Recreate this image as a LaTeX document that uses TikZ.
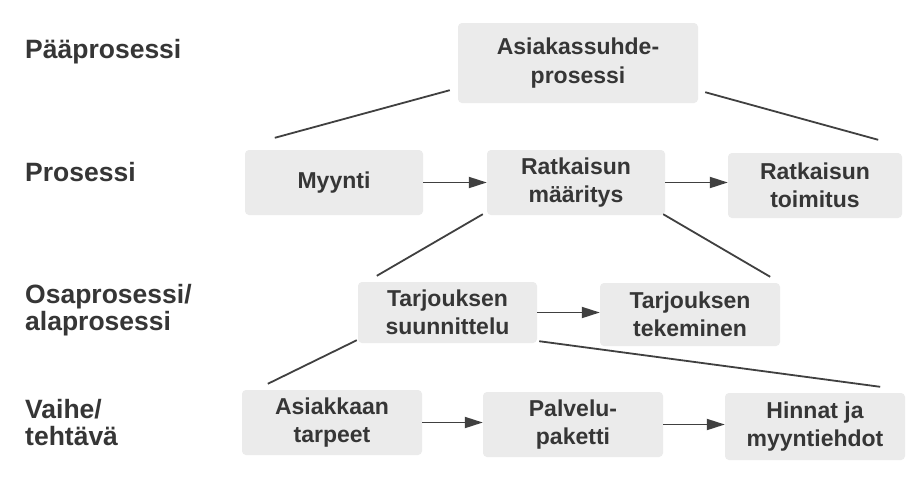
\documentclass[tikz,border=0pt]{standalone}
\usepackage{fontspec}
\setmainfont{Liberation Sans}
\usetikzlibrary{arrows.meta,calc}
\definecolor{boxgray}{HTML}{EBEBEB}
\definecolor{txtgray}{HTML}{363636}
\definecolor{linegray}{HTML}{404040}
\tikzset{
  procbox/.style={fill=boxgray, rounded corners=4pt, inner sep=0pt, align=center,
    text=txtgray, font=\fontsize{23}{28.5}\selectfont\bfseries},
  levellabel/.style={anchor=west, inner sep=0pt, align=left, text=txtgray,
    font=\fontsize{26.5}{27}\selectfont\bfseries},
  flow/.style={draw=linegray, line width=1.9pt, -{Triangle[length=18pt,width=11pt]}},
  link/.style={draw=linegray, line width=1.8pt}
}
\newcommand{\procnode}[6]{% name, x1, x2, y1, y2, text
  \node[procbox, minimum width={#3-#2}, minimum height={#5-#4}] (#1) at ({(#2+#3)/2},{(#4+#5)/2}) {#6};}
\begin{document}
\begin{tikzpicture}[x=1pt,y=-1pt]
\useasboundingbox[fill=white] (0,0) rectangle (906,480);

% level labels
\node[levellabel] (l1) at (25,52) {Pääprosessi};
\node[levellabel] (l2) at (25,172) {Prosessi};
\node[levellabel] (l3) at (25,310) {Osaprosessi/\\alaprosessi};
\node[levellabel] (l4) at (25,423) {Vaihe/\\tehtävä};

% boxes
\procnode{top}{458}{698}{23}{103}{Asiakassuhde-\\prosessi}
\procnode{myynti}{245}{423}{150}{215}{Myynti}
\procnode{rmaar}{487}{665}{150}{215}{Ratkaisun\\määritys}
\procnode{rtoim}{728}{902}{153}{218}{Ratkaisun\\toimitus}
\procnode{tsuun}{358}{537}{282}{343}{Tarjouksen\\suunnittelu}
\procnode{ttek}{600}{780}{283}{346}{Tarjouksen\\tekeminen}
\procnode{atarp}{242}{422}{390}{455}{Asiakkaan\\tarpeet}
\procnode{ppak}{483}{663}{392}{457}{Palvelu-\\paketti}
\procnode{hinnat}{725}{905}{393}{460}{Hinnat ja\\myyntiehdot}

% flow arrows
\draw[flow] (myynti.east) -- (myynti.east -| rmaar.west);
\draw[flow] (rmaar.east) -- (rmaar.east -| rtoim.west);
\draw[flow] (tsuun.east) -- (tsuun.east -| ttek.west);
\draw[flow] (atarp.east) -- (atarp.east -| ppak.west);
\draw[flow] (ppak.east) -- (ppak.east -| hinnat.west);

% decomposition lines
\draw[link] ($(top.south west)+(-8,-13)$) -- ($(myynti.north west)+(30,-12)$);
\draw[link] ($(top.south east)+(7,-11)$) -- ($(rtoim.north east)+(-24,-13)$);
\draw[link] ($(rmaar.south west)+(-4,-1)$) -- ($(tsuun.north west)+(19,-6)$);
\draw[link] ($(rmaar.south east)+(-2,-1)$) -- ($(ttek.north east)+(-10,-6)$);
\draw[link] ($(tsuun.south west)+(-1,-3)$) -- ($(atarp.north west)+(26,-6)$);
\draw[link] ($(tsuun.south east)+(2,-2)$) -- ($(hinnat.north east)+(-25,-6)$);
\end{tikzpicture}
\end{document}
